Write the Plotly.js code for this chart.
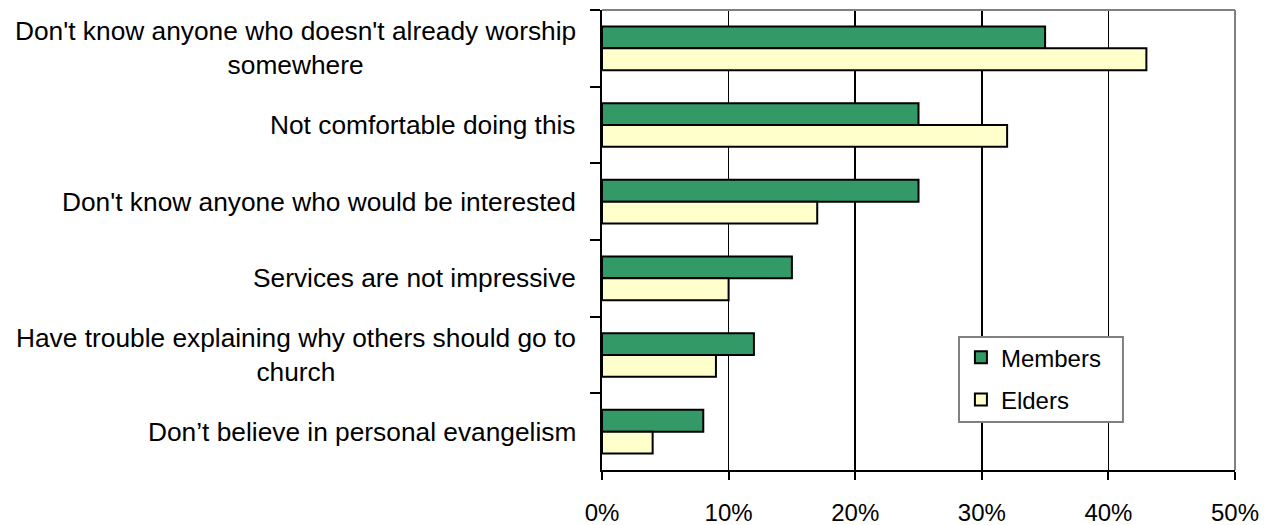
<!DOCTYPE html>
<html>
<head>
<meta charset="utf-8">
<script src="https://cdn.plot.ly/plotly-3.0.1.min.js"></script>
<style>html,body{margin:0;padding:0;background:#fff;}#chart{width:1270px;height:525px;}</style>
</head>
<body>
<div id="chart"></div>
<script>
const categories = [
  "Don't know anyone who doesn't already worship<br>somewhere",
  "Not comfortable doing this",
  "Don't know anyone who would be interested",
  "Services are not impressive",
  "Have trouble explaining why others should go to<br>church",
  "Don’t believe in personal evangelism"
];
const catKeys = ["c1","c2","c3","c4","c5","c6"];
const members = [35, 25, 25, 15, 12, 8];
const elders = [43, 32, 17, 10, 9, 4];
const xTickVals = [0, 10, 20, 30, 40, 50];
const xTickText = ["0%", "10%", "20%", "30%", "40%", "50%"];

const FONT = "Liberation Sans, Arial, sans-serif";

const traces = [
  {type:'bar', orientation:'h', name:'Members', y:catKeys, x:members,
   legendgroup:'m', marker:{color:'#339966', line:{color:'#000', width:2}}, hoverinfo:'x'},
  {type:'bar', orientation:'h', name:'Elders', y:catKeys, x:elders,
   legendgroup:'e', marker:{color:'#FFFFCC', line:{color:'#000', width:2}}, hoverinfo:'x'}
];

const annotations = categories.map((c, i) => ({
  xref:'paper', yref:'y', x:0, y:catKeys[i], xanchor:'right', yanchor:'middle',
  xshift:-24, text:c, showarrow:false, align:'center',
  font:{family:FONT, size:26.3, color:'#000'}
}));

const layout = {
  width:1270, height:525,
  margin:{l:602, r:35, t:10, b:55, pad:0},
  paper_bgcolor:'#fff', plot_bgcolor:'#fff',
  font:{family:FONT, size:24, color:'#000'},
  barmode:'group', bargap:0.43, bargroupgap:0,
  showlegend:true,
  legend:{x:0.567, y:0.2933, xanchor:'left', yanchor:'top',
    bgcolor:'rgba(0,0,0,0)', borderwidth:0,
    traceorder:'grouped', tracegroupgap:8,
    font:{family:FONT, size:24, color:'#000'}},
  xaxis:{range:[0,50], tickvals:xTickVals, ticktext:xTickText,
    showgrid:true, gridcolor:'#000', gridwidth:1.5,
    showline:true, linecolor:'#000', linewidth:2,
    ticks:'outside', ticklen:8, tickwidth:2, tickcolor:'#000',
    ticklabelstandoff:12,
    zeroline:false, fixedrange:true,
    tickfont:{family:FONT, size:24, color:'#000'}},
  yaxis:{type:'category', autorange:'reversed', showticklabels:false,
    showline:true, linecolor:'#000', linewidth:2,
    ticks:'outside', tickson:'boundaries', ticklen:10, tickwidth:2, tickcolor:'#000',
    showgrid:false, zeroline:false, fixedrange:true},
  shapes:[
    {type:'line', xref:'paper', yref:'paper', x0:0, x1:1, y0:1, y1:1, line:{color:'#808080', width:2}},
    {type:'line', xref:'paper', yref:'paper', x0:1, x1:1, y0:0, y1:1, line:{color:'#808080', width:2}},
    {type:'rect', xref:'paper', yref:'paper', x0:0.564, x1:0.823, y0:0.1043, y1:0.289,
     fillcolor:'#fff', line:{color:'#808080', width:2}, layer:'above'}
  ],
  annotations:annotations
};

Plotly.newPlot('chart', traces, layout, {displayModeBar:false, staticPlot:true});
</script>
</body>
</html>
